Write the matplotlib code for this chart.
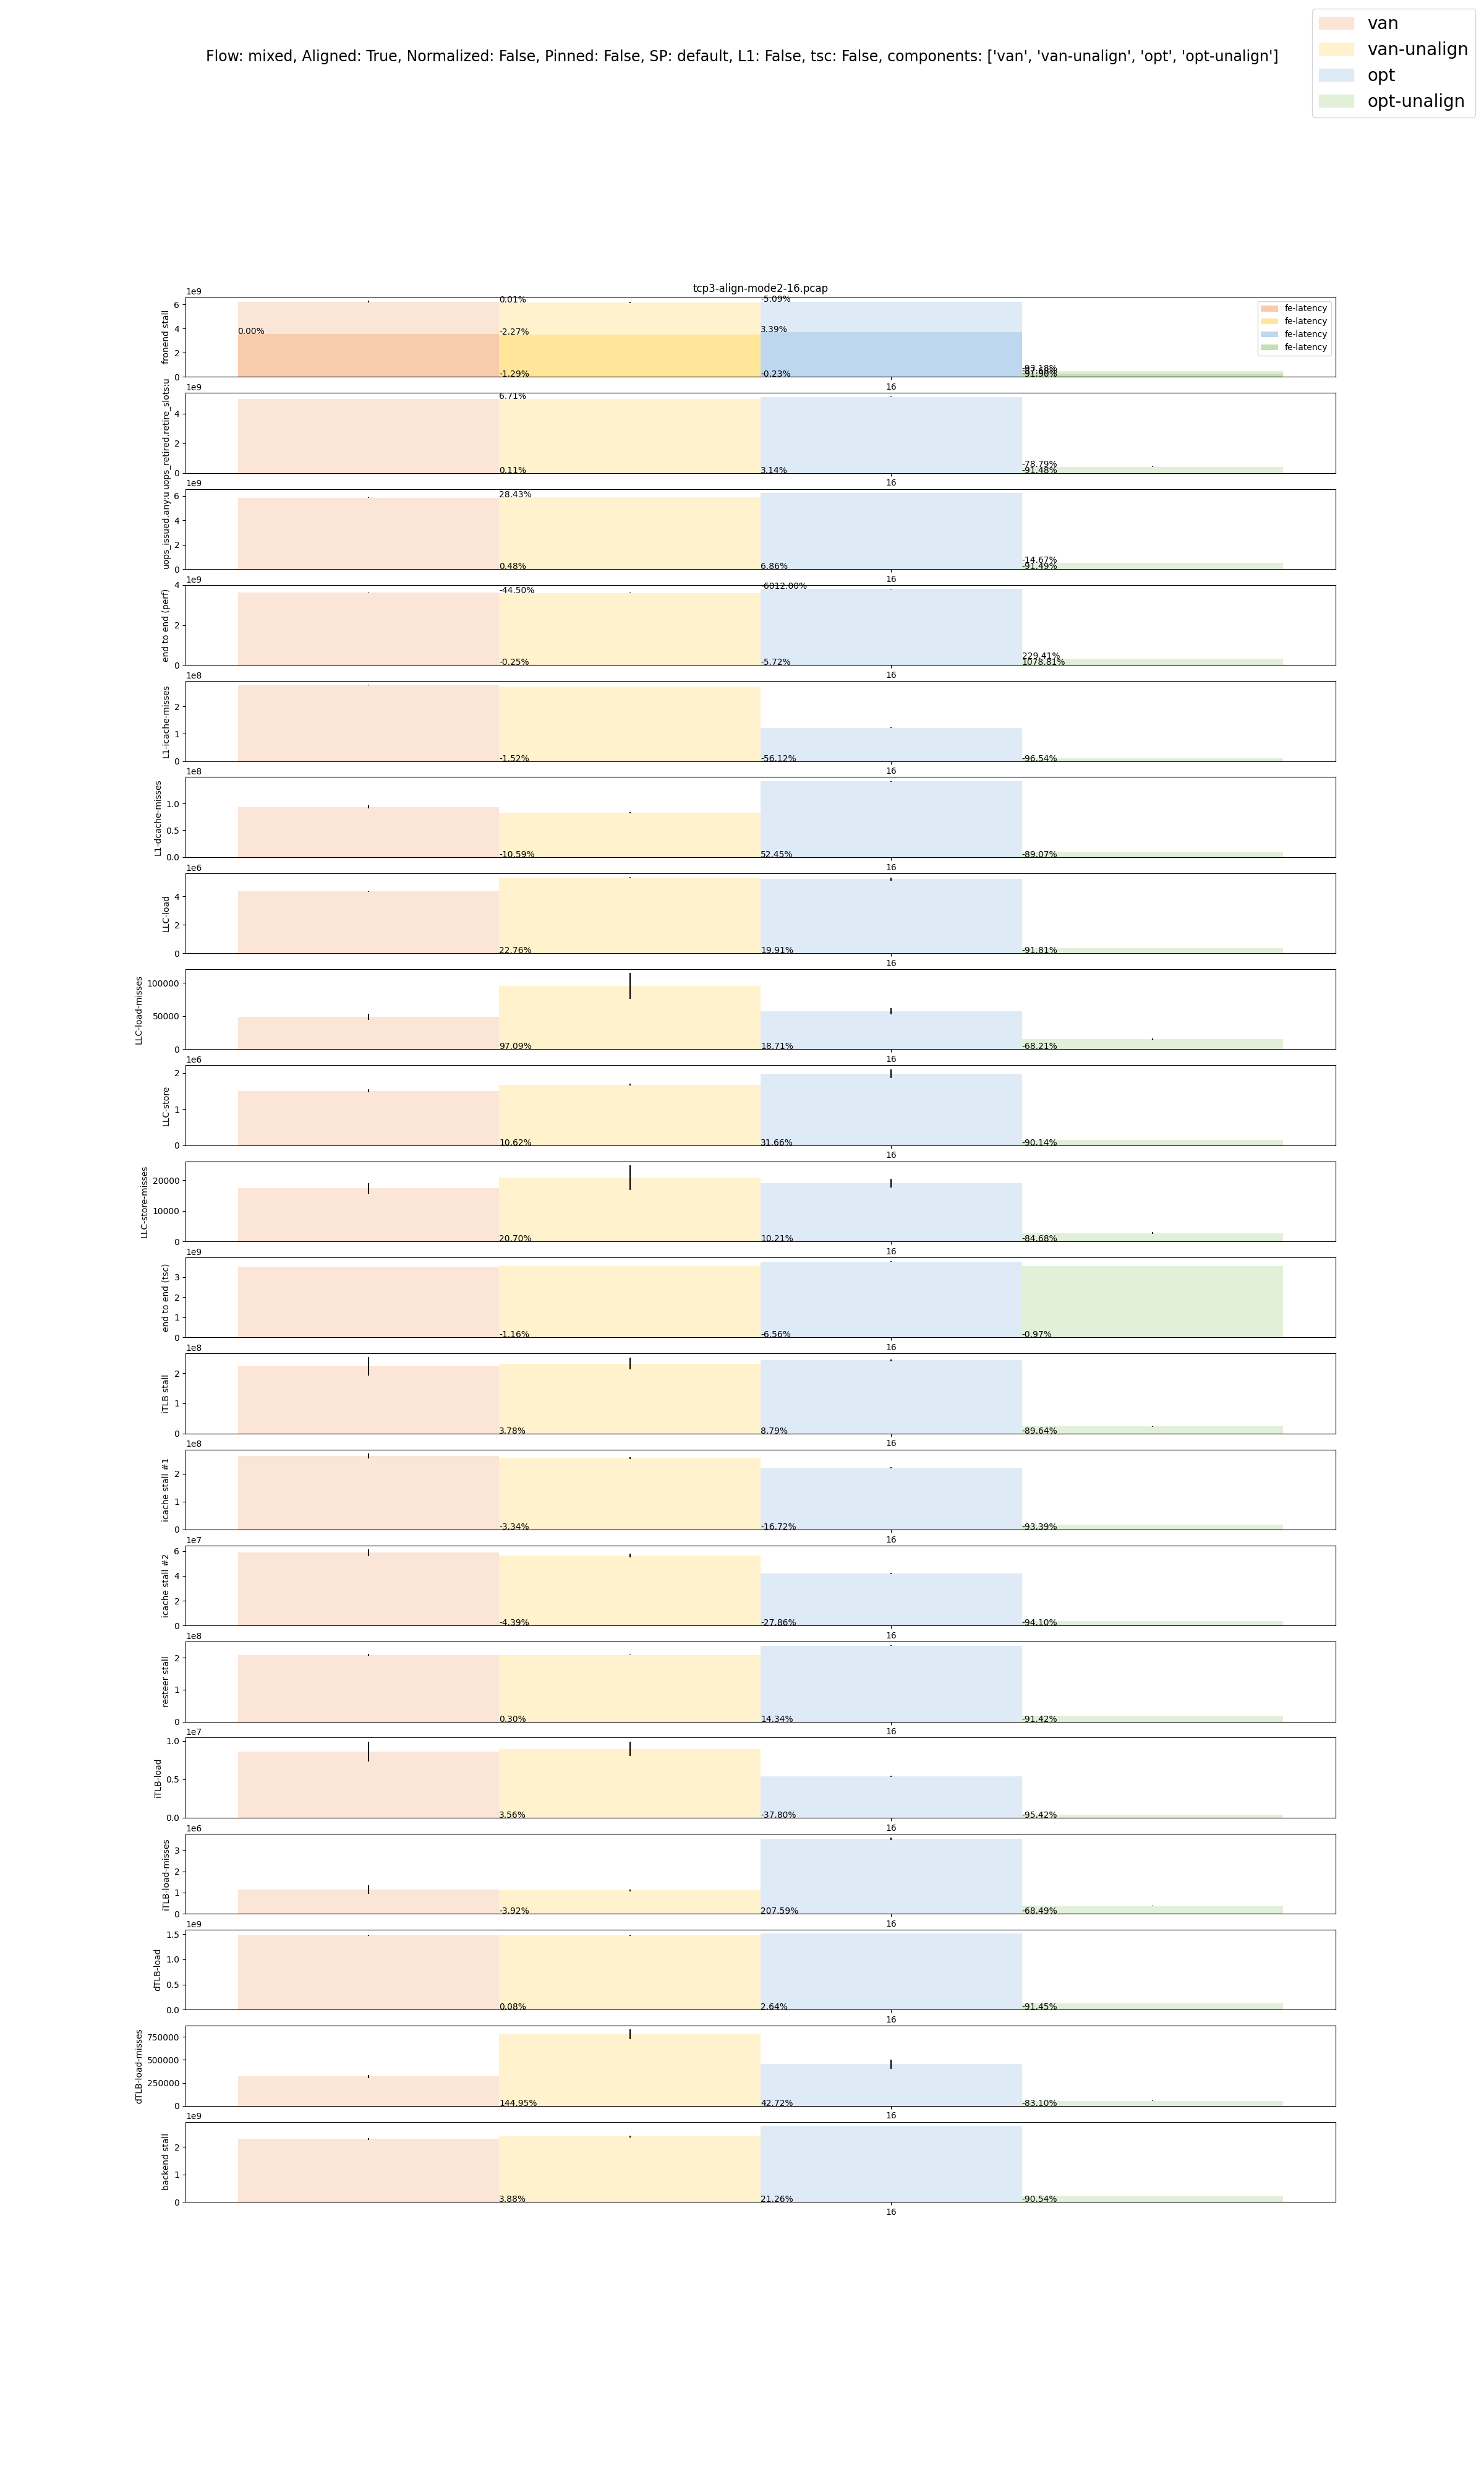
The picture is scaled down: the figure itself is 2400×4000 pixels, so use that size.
import matplotlib
matplotlib.use("Agg")
import matplotlib.pyplot as plt
from matplotlib.patches import Patch

PCAP = "tcp3-align-mode2-16.pcap"
PKT_SIZE = "16"
COMPONENTS = ["van", "van-unalign", "opt", "opt-unalign"]

METRICS = [
    "fronend stall", "uops_retired.retire_slots:u", "uops_issued.any:u",
    "end to end (perf)", "L1-icache-misses", "L1-dcache-misses", "LLC-load",
    "LLC-load-misses", "LLC-store", "LLC-store-misses", "end to end (tsc)",
    "iTLB stall", "icache stall #1", "icache stall #2", "resteer stall",
    "iTLB-load", "iTLB-load-misses", "dTLB-load", "dTLB-load-misses",
    "backend stall",
]

# mean value per component (van, van-unalign, opt, opt-unalign)
MEANS = [
    [6.22e9, 6.16e9, 6.22e9, 0.48e9],
    [4.98e9, 4.985e9, 5.12e9, 0.424e9],
    [5.86e9, 5.89e9, 6.25e9, 0.50e9],
    [3.62e9, 3.61e9, 3.80e9, 0.32e9],
    [2.78e8, 2.73e8, 1.22e8, 0.10e8],
    [0.935e8, 0.83e8, 1.415e8, 0.10e8],
    [4.35e6, 5.34e6, 5.22e6, 0.356e6],
    [48900, 95500, 57500, 15200],
    [1.51e6, 1.68e6, 1.99e6, 0.149e6],
    [17300, 20800, 19000, 2650],
    [3.52e9, 3.55e9, 3.77e9, 3.55e9],
    [2.23e8, 2.32e8, 2.43e8, 0.23e8],
    [2.64e8, 2.56e8, 2.21e8, 0.18e8],
    [5.87e7, 5.62e7, 4.22e7, 0.35e7],
    [2.09e8, 2.09e8, 2.38e8, 0.19e8],
    [0.864e7, 0.897e7, 0.538e7, 0.0396e7],
    [1.15e6, 1.10e6, 3.54e6, 0.36e6],
    [1.472e9, 1.473e9, 1.51e9, 0.126e9],
    [318000, 778000, 453000, 54000],
    [2.30e9, 2.39e9, 2.78e9, 0.22e9],
]

# standard deviation per component
ERRS = [
    [0.08e9, 0.05e9, 0.005e9, 0.005e9],
    [0.005e9, 0.005e9, 0.005e9, 0.003e9],
    [0.005e9, 0.005e9, 0.005e9, 0.003e9],
    [0.01e9, 0.01e9, 0.01e9, 0.005e9],
    [0.01e8, 0.01e8, 0.01e8, 0.002e8],
    [0.03e8, 0.015e8, 0.005e8, 0.002e8],
    [0.03e6, 0.03e6, 0.12e6, 0.01e6],
    [5000, 19500, 4500, 1200],
    [0.04e6, 0.02e6, 0.12e6, 0.005e6],
    [1700, 4100, 1400, 300],
    [0.01e9, 0.01e9, 0.02e9, 0.005e9],
    [0.30e8, 0.2e8, 0.03e8, 0.005e8],
    [0.09e8, 0.04e8, 0.02e8, 0.002e8],
    [0.27e7, 0.15e7, 0.05e7, 0.01e7],
    [0.03e8, 0.01e8, 0.005e8, 0.002e8],
    [0.13e7, 0.09e7, 0.005e7, 0.001e7],
    [0.2e6, 0.05e6, 0.06e6, 0.01e6],
    [0.002e9, 0.002e9, 0.002e9, 0.001e9],
    [18000, 52000, 49000, 3000],
    [0.03e9, 0.03e9, 0.005e9, 0.005e9],
]

# percentage change labels written at the bottom of each bar
PCT_BOTTOM = [
    [None, "-1.29%", "-0.23%", "-91.90%"],
    [None, "0.11%", "3.14%", "-91.48%"],
    [None, "0.48%", "6.86%", "-91.49%"],
    [None, "-0.25%", "-5.72%", "1078.81%"],
    [None, "-1.52%", "-56.12%", "-96.54%"],
    [None, "-10.59%", "52.45%", "-89.07%"],
    [None, "22.76%", "19.91%", "-91.81%"],
    [None, "97.09%", "18.71%", "-68.21%"],
    [None, "10.62%", "31.66%", "-90.14%"],
    [None, "20.70%", "10.21%", "-84.68%"],
    [None, "-1.16%", "-6.56%", "-0.97%"],
    [None, "3.78%", "8.79%", "-89.64%"],
    [None, "-3.34%", "-16.72%", "-93.39%"],
    [None, "-4.39%", "-27.86%", "-94.10%"],
    [None, "0.30%", "14.34%", "-91.42%"],
    [None, "3.56%", "-37.80%", "-95.42%"],
    [None, "-3.92%", "207.59%", "-68.49%"],
    [None, "0.08%", "2.64%", "-91.45%"],
    [None, "144.95%", "42.72%", "-83.10%"],
    [None, "3.88%", "21.26%", "-90.54%"],
]

# labels written on top of the bars (only the first four metrics have them)
PCT_TOP = [
    [None, "0.01%", "-5.09%", "-93.18%"],
    [None, "6.71%", None, "-78.79%"],
    [None, "28.43%", None, "-14.67%"],
    [None, "-44.50%", "-6012.00%", "229.41%"],
]

# fe-latency component of the frontend stall
FE_MEANS = [3.56e9, 3.50e9, 3.71e9, 0.27e9]
FE_PCT = ["0.00%", "-2.27%", "3.39%", "-87.68%"]

LIGHT = ["#fbe5d6", "#fff2cc", "#deebf7", "#e2f0d9"]
DARK = ["#f8cbad", "#ffe699", "#bdd7ee", "#c5e0b4"]

TITLE = ("Flow: mixed, Aligned: True, Normalized: False, Pinned: False, SP: default, "
         "L1: False, tsc: False, components: ['van', 'van-unalign', 'opt', 'opt-unalign']")


def main():
    fig, axes = plt.subplots(len(METRICS), 1, figsize=(24, 40))
    xs = list(range(len(COMPONENTS)))

    for m, ax in enumerate(axes):
        for i, comp in enumerate(COMPONENTS):
            ax.bar(xs[i], MEANS[m][i], width=1.0, color=LIGHT[i],
                   yerr=ERRS[m][i], ecolor="black", label=comp)
            if PCT_BOTTOM[m][i]:
                ax.text(xs[i] - 0.5, 0, PCT_BOTTOM[m][i])
            if m < len(PCT_TOP) and PCT_TOP[m][i]:
                ax.text(xs[i] - 0.5, MEANS[m][i], PCT_TOP[m][i])
        if m == 0:
            for i in xs:
                ax.bar(xs[i], FE_MEANS[i], width=1.0, color=DARK[i], label="fe-latency")
                ax.text(xs[i] - 0.5, FE_MEANS[i], FE_PCT[i])
            handles, labels = ax.get_legend_handles_labels()
            ax.legend(handles[4:], labels[4:], loc="upper right")
            ax.set_title(PCAP)
        ax.set_xticks([2])
        ax.set_xticklabels([PKT_SIZE])
        ax.set_ylabel(METRICS[m])

    fig_handles = [Patch(color=LIGHT[i], label=c) for i, c in enumerate(COMPONENTS)]
    fig.legend(handles=fig_handles, loc="upper right", fontsize=20)
    fig.suptitle(TITLE, fontsize=17)
    fig.savefig("out.png", dpi=100)


if __name__ == "__main__":
    main()
